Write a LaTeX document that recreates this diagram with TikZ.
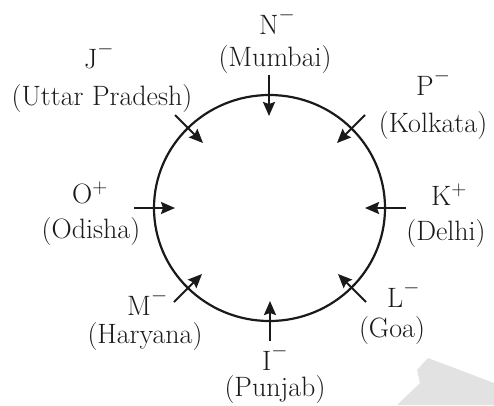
\documentclass[tikz,border=0pt]{standalone}
\usepackage{fontspec}
\usetikzlibrary{arrows.meta}
\definecolor{ink}{HTML}{1A1A1A}
\definecolor{haze}{HTML}{E2E2E2}
% raised charge signs, taking no extra height
\newcommand\ionneg{\raisebox{0.5em}[0pt][0pt]{$\scriptstyle-$}}
\newcommand\ionpos{\raisebox{0.33em}[0pt][0pt]{$\scriptstyle+$}}
\tikzset{
  lbl/.style={inner sep=0pt, anchor=base, font=\fontsize{28}{32}\selectfont, text=ink},
  ion/.style={lbl, anchor=base west},
  flow/.style={draw=ink, line width=2pt, -{Stealth[length=14pt,width=12pt,inset=2pt]}},
  ring/.style={draw=ink, line width=2.2pt}
}
\begin{document}
\begin{tikzpicture}[x=1pt, y=-1pt]
  \useasboundingbox (0,0) rectangle (494,405);

  % faint grey shape in the lower right corner
  \fill[haze] (428,358) -- (417,370) -- (420,383) -- (397,405) -- (494,405) -- (494,383) -- cycle;

  % the ring
  \draw[ring] (269.5,208) ellipse [x radius=115.5, y radius=113];

  % arrow ends
  \coordinate (nS) at (269,75);   \coordinate (nT) at (269,116);
  \coordinate (pS) at (365,115);  \coordinate (pT) at (337,143);
  \coordinate (kS) at (406,208);  \coordinate (kT) at (365,208);
  \coordinate (lS) at (366,302);  \coordinate (lT) at (338,274);
  \coordinate (iS) at (270,341);  \coordinate (iT) at (270,301);
  \coordinate (mS) at (174,302);  \coordinate (mT) at (202,274);
  \coordinate (oS) at (134,208);  \coordinate (oT) at (175,208);
  \coordinate (jS) at (175,115);  \coordinate (jT) at (203,143);

  \draw[flow] (nS) -- (nT);
  \draw[flow] (pS) -- (pT);
  \draw[flow] (kS) -- (kT);
  \draw[flow] (lS) -- (lT);
  \draw[flow] (iS) -- (iT);
  \draw[flow] (mS) -- (mT);
  \draw[flow] (oS) -- (oT);
  \draw[flow] (jS) -- (jT);

  % labels
  \node[ion] (nIon) at (259,34) {N\ionneg};
  \node[lbl] (nCity) at (275,66) {(Mumbai)};

  \node[ion] (jIon) at (84,68) {J\ionneg};
  \node[lbl] (jCity) at (102,105) {(Uttar Pradesh)};

  \node[ion] (pIon) at (416,95) {P\ionneg};
  \node[lbl] (pCity) at (433,132) {(Kolkata)};

  \node[ion] (oIon) at (72,203) {O\ionpos};
  \node[lbl] (oCity) at (91,238) {(Odisha)};

  \node[ion] (kIon) at (431,205) {K\ionpos};
  \node[lbl] (kCity) at (446,240) {(Delhi)};

  \node[ion] (mIon) at (127,315) {M\ionneg};
  \node[lbl] (mCity) at (145,343) {(Haryana)};

  \node[ion] (lIon) at (387,307) {L\ionneg};
  \node[lbl] (lCity) at (392,337) {(Goa)};

  \node[ion] (iIon) at (262,370) {I\ionneg};
  \node[lbl] (iCity) at (275,396) {(Punjab)};
\end{tikzpicture}
\end{document}
